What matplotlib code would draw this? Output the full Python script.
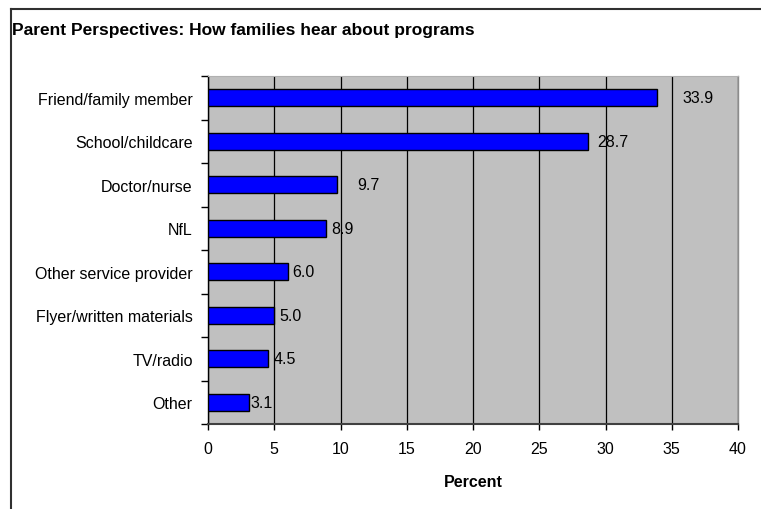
import matplotlib.pyplot as plt
from matplotlib.lines import Line2D
from matplotlib.ticker import MultipleLocator, FixedLocator

plt.rcParams['font.family'] = ['Liberation Sans', 'DejaVu Sans']

# Sources of program information, top to bottom
sources = [
    'Friend/family member', 'School/childcare', 'Doctor/nurse', 'NfL',
    'Other service provider', 'Flyer/written materials', 'TV/radio', 'Other',
]
percent = [33.9, 28.7, 9.7, 8.9, 6.0, 5.0, 4.5, 3.1]
# horizontal nudge of each value label, in points
label_nudge = [18, 6.5, 15, 3.5, 3.5, 4, 4, 0.7]

W, H = 761, 510
fig = plt.figure(figsize=(W / 100, H / 100), dpi=100)
ax = fig.add_axes([208 / W, 1 - 425 / H, (738 - 208) / W, (425 - 77) / H])
ax.set_facecolor('#c0c0c0')

ypos = list(range(len(sources)))
ax.barh(ypos, percent, height=0.39, color='#0000ff', edgecolor='black',
        linewidth=1.0, zorder=3)

for y, v, dx in zip(ypos, percent, label_nudge):
    ax.annotate(f'{v:.1f}', xy=(v, y), xytext=(dx, 0), textcoords='offset points',
                ha='left', va='center', fontsize=11.5, color='black', zorder=4)

ax.set_xlim(0, 40)
ax.set_ylim(len(sources) - 0.5, -0.5)

ax.xaxis.set_major_locator(MultipleLocator(5))
ax.tick_params(axis='x', direction='out', length=4, width=1, color='black',
               labelsize=11.5, pad=8)
ax.grid(axis='x', color='black', linewidth=0.9, zorder=1)
ax.grid(axis='y', visible=False)

# category labels at bar centres, tick marks on the boundaries between them
ax.set_yticks(ypos)
ax.set_yticklabels(sources)
ax.tick_params(axis='y', which='major', length=0, labelsize=11.5, pad=11)
ax.yaxis.set_minor_locator(FixedLocator([i - 0.5 for i in range(len(sources) + 1)]))
ax.tick_params(axis='y', which='minor', direction='out', length=5, width=1, color='black')

ax.spines['left'].set_color('black')
ax.spines['left'].set_linewidth(1.0)
ax.spines['bottom'].set_color('#404040')
ax.spines['bottom'].set_linewidth(1.5)
ax.spines['right'].set_color('#8c8c8c')
ax.spines['right'].set_linewidth(1.0)
ax.spines['top'].set_color('#b0b0b0')
ax.spines['top'].set_linewidth(0.8)

ax.set_xlabel('Percent', fontsize=11.5, fontweight='bold', labelpad=13)

fig.text(12 / W, 1 - 30 / H, 'Parent Perspectives: How families hear about programs',
         fontsize=12.5, fontweight='bold', ha='left', va='center')

# chart frame: only the top and left edges fall inside the image
fig.add_artist(Line2D([11 / W, 11 / W], [0, 1 - 10 / H], color='#303030', linewidth=1.5,
                      transform=fig.transFigure))
fig.add_artist(Line2D([11 / W, 1], [1 - 10 / H, 1 - 10 / H], color='#303030', linewidth=1.5,
                      transform=fig.transFigure))

fig.savefig('out.png', dpi=100, facecolor='white')
